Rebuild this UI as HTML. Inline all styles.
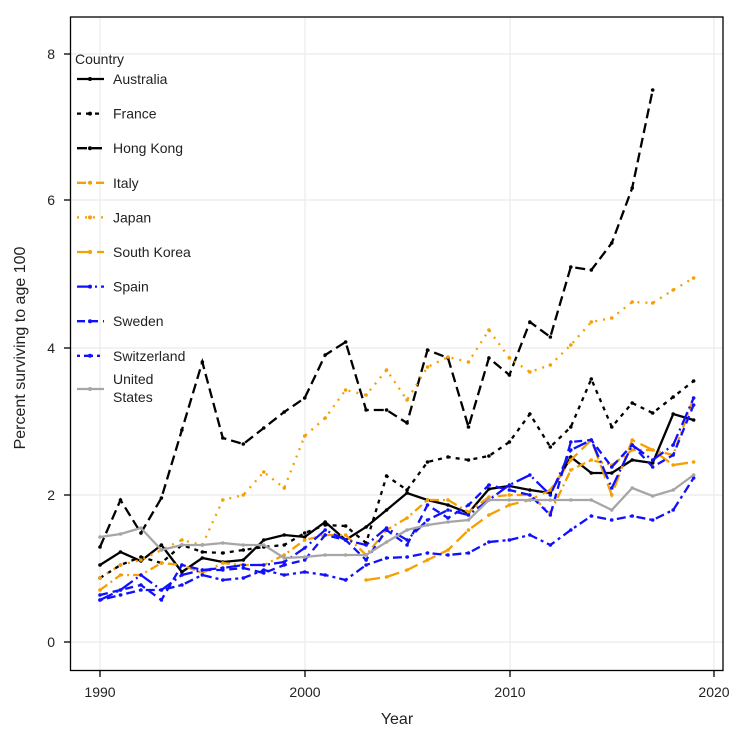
<!DOCTYPE html>
<html><head><meta charset="utf-8"><style>
html,body{margin:0;padding:0;background:#fff;}
svg{display:block;font-family:"Liberation Sans",sans-serif;}
</style></head><body>
<svg id="s" width="746" height="739" viewBox="0 0 746 739" xmlns="http://www.w3.org/2000/svg">
<g stroke="#ebebeb" stroke-width="1.2">
<line x1="100" y1="17" x2="100" y2="670"/><line x1="305" y1="17" x2="305" y2="670"/><line x1="510" y1="17" x2="510" y2="670"/><line x1="714" y1="17" x2="714" y2="670"/>
<line x1="71" y1="642" x2="723" y2="642"/><line x1="71" y1="495" x2="723" y2="495"/><line x1="71" y1="348" x2="723" y2="348"/><line x1="71" y1="200" x2="723" y2="200"/><line x1="71" y1="54" x2="723" y2="54"/>
</g>
<g id="lines"></g>
<g stroke="#000" stroke-width="1.3" fill="none">
<rect x="70.5" y="17" width="652.5" height="653.5"/>
<line x1="64" y1="642" x2="70" y2="642"/><line x1="64" y1="495" x2="70" y2="495"/><line x1="64" y1="348" x2="70" y2="348"/><line x1="64" y1="200" x2="70" y2="200"/><line x1="64" y1="54" x2="70" y2="54"/>
<line x1="100" y1="671" x2="100" y2="677"/><line x1="305" y1="671" x2="305" y2="677"/><line x1="510" y1="671" x2="510" y2="677"/><line x1="714" y1="671" x2="714" y2="677"/>
</g>
<g font-size="14" fill="#222" text-anchor="end">
<text x="55" y="647">0</text><text x="55" y="500">2</text><text x="55" y="353">4</text><text x="55" y="205">6</text><text x="55" y="59">8</text>
</g>
<g font-size="14" fill="#222" text-anchor="middle">
<text x="100" y="697">1990</text><text x="305" y="697">2000</text><text x="510" y="697">2010</text><text x="714" y="697">2020</text>
<text x="397" y="724" font-size="16">Year</text>
<text transform="translate(25,348) rotate(-90)" font-size="16">Percent surviving to age 100</text>
</g>
<g id="legend" font-size="14" fill="#222"><text x="75" y="64">Country</text></g>
</svg>
<script>
var N='http://www.w3.org/2000/svg';
function X(i){return 100+20.47*i;}
var S=[
{n:'Australia',c:'#000',d:'',y:[565,552,561,545,572,558,562,560,540,535,537,522,540,527,510,493,500,505,513,489,486,490,493,457,473,473,460,463,414,420]},
{n:'France',c:'#000',d:'4,5',y:[578,565,557,563,545,552,553,550,547,545,533,525,526,543,476,490,462,457,460,456,442,414,447,427,379,427,403,413,397,381]},
{n:'Hong Kong',c:'#000',d:'10,5',y:[547,500,533,498,430,362,438,444,428,412,398,355,342,410,410,423,350,358,427,358,375,322,337,267,270,243,188,90]},
{n:'Italy',c:'#f5a000',d:'9,4,2,4',y:[590,575,575,563,565,573,563,565,565,555,540,535,535,555,530,518,500,500,512,497,495,495,513,470,460,465,450,450,455,398]},
{n:'Japan',c:'#f5a000',d:'2,6',y:[578,565,560,550,540,545,500,495,472,488,436,418,390,395,370,400,367,357,362,330,358,372,365,345,322,318,302,303,290,278]},
{n:'South Korea',c:'#f5a000',d:'14,6',s:13,y:[580,577,570,560,550,530,515,505,500,490,460,440,495,440,450,465,462]},
{n:'Spain',c:'#1010ff',d:'14,4,2,4',y:[600,590,575,590,575,570,568,565,565,562,548,530,540,545,528,540,520,510,515,500,485,475,495,450,440,488,445,460,445,398]},
{n:'Sweden',c:'#1010ff',d:'8,5',y:[595,590,585,600,565,570,570,568,573,565,560,535,540,560,530,545,505,518,505,485,490,495,515,442,440,467,445,467,455,405]},
{n:'Switzerland',c:'#1010ff',d:'3,4,9,4',y:[600,595,590,590,585,575,580,578,570,575,572,575,580,565,558,557,553,555,553,542,540,535,545,530,516,520,516,520,510,478]},
{n:'United States',c:'#a6a6a6',d:'',y:[537,534,528,550,545,545,543,545,545,558,557,555,555,555,542,530,525,522,520,500,500,500,500,500,500,510,488,496,490,475]}
];
var g=document.getElementById('lines'),L=document.getElementById('legend');
S.forEach(function(s,k){
 var st=s.s||0,pts=s.y.map(function(v,i){return X(i+st).toFixed(1)+','+v;}).join(' ');
 var p=document.createElementNS(N,'polyline');p.setAttribute('points',pts);p.setAttribute('fill','none');
 p.setAttribute('stroke',s.c);p.setAttribute('stroke-width','2.3');if(s.d)p.setAttribute('stroke-dasharray',s.d);g.appendChild(p);
 s.y.forEach(function(v,i){var c=document.createElementNS(N,'circle');c.setAttribute('cx',X(i+st));c.setAttribute('cy',v);c.setAttribute('r','1.8');c.setAttribute('fill',s.c);g.appendChild(c);});
 var ly=k<9?79+k*34.6:389;
 var l=document.createElementNS(N,'line');l.setAttribute('x1',77);l.setAttribute('x2',104);l.setAttribute('y1',ly);l.setAttribute('y2',ly);
 l.setAttribute('stroke',s.c);l.setAttribute('stroke-width','2.3');if(s.d)l.setAttribute('stroke-dasharray',s.d);L.appendChild(l);
 var c=document.createElementNS(N,'circle');c.setAttribute('cx',90);c.setAttribute('cy',ly);c.setAttribute('r','2');c.setAttribute('fill',s.c);L.appendChild(c);
 if(k<9){var t=document.createElementNS(N,'text');t.setAttribute('x',113);t.setAttribute('y',ly+5);t.textContent=s.n;L.appendChild(t);}
 else{['United','States'].forEach(function(w,j){var t=document.createElementNS(N,'text');t.setAttribute('x',113);t.setAttribute('y',384+j*18);t.textContent=w;L.appendChild(t);});}
});
</script>
</body></html>
